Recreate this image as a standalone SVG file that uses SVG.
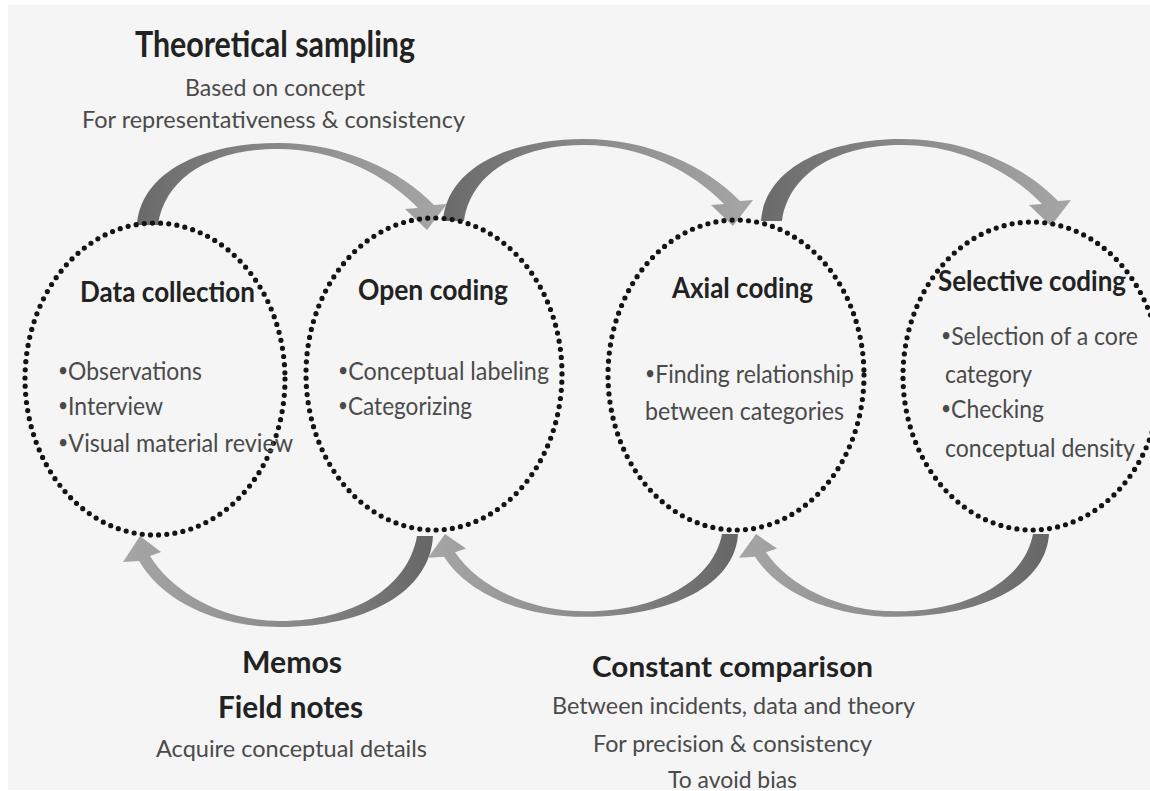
<svg xmlns="http://www.w3.org/2000/svg" width="1150" height="791" viewBox="0 0 1150 791">
<defs>
<style>
.t{font-family:"Lato","Liberation Sans",sans-serif;fill:#4a4a4a;font-size:23.5px}
.b{font-family:"Lato","Liberation Sans",sans-serif;fill:#222;font-weight:bold}
.c{font-family:"Lato","Liberation Sans",sans-serif;fill:#4a4a4a;font-size:25px}
.bu{font-size:19px}
.ring{fill:none;stroke:#141414;stroke-width:5.2;stroke-linecap:round;stroke-dasharray:0 8.2}
</style>
<linearGradient id="gTop" x1="0" y1="0" x2="1" y2="0">
<stop offset="0" stop-color="#6a6a6a"/>
<stop offset="0.5" stop-color="#8c8c8c"/>
<stop offset="1" stop-color="#a6a6a6"/>
</linearGradient>
<linearGradient id="gBot" x1="1" y1="0" x2="0" y2="0">
<stop offset="0" stop-color="#666"/>
<stop offset="0.5" stop-color="#8c8c8c"/>
<stop offset="1" stop-color="#a6a6a6"/>
</linearGradient>
<path id="arcTop" d="M137,225 C141,172 203,143 278,143 C343,143 400,170 434,205 L447,204 L427,230 L405,209 L418,208 C387,176 337,149 278,149 C214,149 165,176 158,225 Z"/>
<path id="arcBot" d="M433,536 C430,592 366,627 280,627 C214,627 162,600 139,561 L123,562 L140,536 L161,552 L150,556 C172,592 222,621 280,621 C352,621 408,588 417,536 Z"/>
</defs>
<rect x="0" y="0" width="1150" height="791" fill="#fff"/>
<rect x="8" y="5" width="1142" height="785" fill="#f5f5f5"/>

<g id="connectors">
<use href="#arcTop" fill="url(#gTop)"/>
<use href="#arcTop" fill="url(#gTop)" transform="translate(306,-4)"/>
<use href="#arcTop" fill="url(#gTop)" transform="translate(624,-4)"/>
<use href="#arcBot" fill="url(#gBot)"/>
<use href="#arcBot" fill="url(#gBot)" transform="translate(305,0) translate(0,534) scale(1,0.91) translate(0,-536)"/>
<use href="#arcBot" fill="url(#gBot)" transform="translate(616,0) translate(0,534) scale(1,0.91) translate(0,-536)"/>
</g>

<g id="theoretical-sampling">
<text class="b" x="135" y="57" font-size="36" textLength="280" lengthAdjust="spacingAndGlyphs">Theoretical sampling</text>
<text class="t" x="185" y="96" textLength="180" lengthAdjust="spacingAndGlyphs">Based on concept</text>
<text class="t" x="82" y="128" textLength="383" lengthAdjust="spacingAndGlyphs">For representativeness &amp; consistency</text>
</g>

<g id="data-collection">
<ellipse class="ring" cx="155" cy="379" rx="130" ry="156"/>
<text class="b" x="80" y="302" font-size="28" textLength="175" lengthAdjust="spacingAndGlyphs">Data collection</text>
<text class="c" x="58" y="380" textLength="144" lengthAdjust="spacingAndGlyphs"><tspan class="bu" dy="-3">•</tspan><tspan dy="3">Observations</tspan></text>
<text class="c" x="58" y="415" textLength="105" lengthAdjust="spacingAndGlyphs"><tspan class="bu" dy="-3">•</tspan><tspan dy="3">Interview</tspan></text>
<text class="c" x="58" y="452" textLength="235" lengthAdjust="spacingAndGlyphs"><tspan class="bu" dy="-3">•</tspan><tspan dy="3">Visual material review</tspan></text>
</g>

<g id="open-coding">
<ellipse class="ring" cx="434" cy="374" rx="128" ry="156"/>
<text class="b" x="358" y="300" font-size="28" textLength="150" lengthAdjust="spacingAndGlyphs">Open coding</text>
<text class="c" x="338" y="380" textLength="211" lengthAdjust="spacingAndGlyphs"><tspan class="bu" dy="-3">•</tspan><tspan dy="3">Conceptual labeling</tspan></text>
<text class="c" x="338" y="415" textLength="134" lengthAdjust="spacingAndGlyphs"><tspan class="bu" dy="-3">•</tspan><tspan dy="3">Categorizing</tspan></text>
</g>

<g id="axial-coding">
<ellipse class="ring" cx="736" cy="375" rx="128" ry="155"/>
<text class="b" x="672" y="298" font-size="28" textLength="141" lengthAdjust="spacingAndGlyphs">Axial coding</text>
<text class="c" x="645" y="383" textLength="209" lengthAdjust="spacingAndGlyphs"><tspan class="bu" dy="-3">•</tspan><tspan dy="3">Finding relationship</tspan></text>
<text class="c" x="645" y="420" textLength="199" lengthAdjust="spacingAndGlyphs">between categories</text>
</g>

<g id="selective-coding">
<ellipse class="ring" cx="1032" cy="376" rx="129" ry="154"/>
<text class="b" x="938" y="291" font-size="28" textLength="188" lengthAdjust="spacingAndGlyphs">Selective coding</text>
<text class="c" x="941" y="345" textLength="197" lengthAdjust="spacingAndGlyphs"><tspan class="bu" dy="-3">•</tspan><tspan dy="3">Selection of a core</tspan></text>
<text class="c" x="945" y="383" textLength="87" lengthAdjust="spacingAndGlyphs">category</text>
<text class="c" x="941" y="418" textLength="103" lengthAdjust="spacingAndGlyphs"><tspan class="bu" dy="-3">•</tspan><tspan dy="3">Checking</tspan></text>
<text class="c" x="945" y="457" textLength="190" lengthAdjust="spacingAndGlyphs">conceptual density</text>
</g>

<g id="memos">
<text class="b" x="242" y="673" font-size="30" textLength="100" lengthAdjust="spacingAndGlyphs">Memos</text>
<text class="b" x="218" y="718" font-size="30" textLength="145" lengthAdjust="spacingAndGlyphs">Field notes</text>
<text class="t" x="156" y="757" textLength="271" lengthAdjust="spacingAndGlyphs">Acquire conceptual details</text>
</g>

<g id="constant-comparison">
<text class="b" x="592" y="677" font-size="29" textLength="281" lengthAdjust="spacingAndGlyphs">Constant comparison</text>
<text class="t" x="552" y="714" textLength="363" lengthAdjust="spacingAndGlyphs">Between incidents, data and theory</text>
<text class="t" x="593" y="752" textLength="279" lengthAdjust="spacingAndGlyphs">For precision &amp; consistency</text>
<text class="t" x="668" y="788" textLength="129" lengthAdjust="spacingAndGlyphs">To avoid bias</text>
</g>
</svg>
